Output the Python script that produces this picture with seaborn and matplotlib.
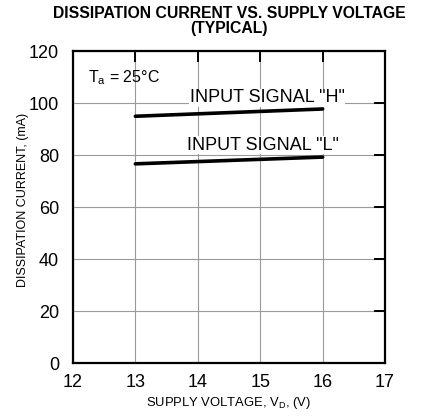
import matplotlib
matplotlib.use("Agg")
import matplotlib.pyplot as plt
import seaborn as sns
import pandas as pd

sns.set_theme(style="white")
plt.rcParams['font.family'] = ['Liberation Sans', 'DejaVu Sans']
plt.rcParams['text.color'] = 'black'
plt.rcParams['axes.labelcolor'] = 'black'

voltage = [13, 16]
current_h = [94.9, 97.7]
current_l = [76.6, 79.2]
series_labels = ['INPUT SIGNAL "H"', 'INPUT SIGNAL "L"']
x_ticks = [12, 13, 14, 15, 16, 17]
y_ticks = [0, 20, 40, 60, 80, 100, 120]

df = pd.DataFrame({
    "V": voltage * 2,
    "I": current_h + current_l,
    "s": [series_labels[0]] * 2 + [series_labels[1]] * 2,
})

W, H = 423, 416
fig = plt.figure(figsize=(W / 100, H / 100), dpi=100)
left, right, top, bottom = 73, 385, 51, 363
ax = fig.add_axes([left / W, 1 - bottom / H, (right - left) / W, (bottom - top) / H])

sns.lineplot(data=df, x="V", y="I", hue="s", palette=["black", "black"],
             linewidth=2.6, legend=False, ax=ax, zorder=3)

ax.set_xlim(12, 17)
ax.set_ylim(0, 120)
ax.set_xticks(x_ticks)
ax.set_yticks(y_ticks)
ax.grid(True, color="#9a9a9a", linewidth=0.8)
ax.set_axisbelow(True)
for sp in ax.spines.values():
    sp.set_color("black")
    sp.set_linewidth(1.6)
ax.tick_params(direction="in", length=8, width=1.4, colors="black",
               labelsize=13, top=True, right=True)
ax.tick_params(axis="y", pad=10)
ax.tick_params(axis="x", pad=8)

ax.set_xlabel("SUPPLY VOLTAGE, V$_\\mathregular{D}$, (V)", fontsize=9.4, color="black", labelpad=3)
ax.set_ylabel("DISSIPATION CURRENT, (mA)", fontsize=9, color="black")
ax.yaxis.set_label_coords((29 - left) / (right - left), (bottom - 200) / (bottom - top))

fig.text(229 / W, 1 - 13 / H, "DISSIPATION CURRENT VS. SUPPLY VOLTAGE",
         fontsize=11.3, fontweight="bold", ha="center", va="center", color="black")
fig.text(229 / W, 1 - 29 / H, "(TYPICAL)",
         fontsize=11.3, fontweight="bold", ha="center", va="center", color="black")

ax.text(12.24, 109.6, "T$_\\mathregular{a}$ = 25°C", fontsize=11.5, va="center", ha="left")
ax.text(15.11, 102.0, series_labels[0], fontsize=13, va="center", ha="center",
        bbox=dict(facecolor="white", edgecolor="none", pad=0.5), zorder=4)
ax.text(15.05, 83.8, series_labels[1], fontsize=13, va="center", ha="center",
        bbox=dict(facecolor="white", edgecolor="none", pad=0.5), zorder=4)

fig.savefig("out.png", dpi=100, facecolor="white")
